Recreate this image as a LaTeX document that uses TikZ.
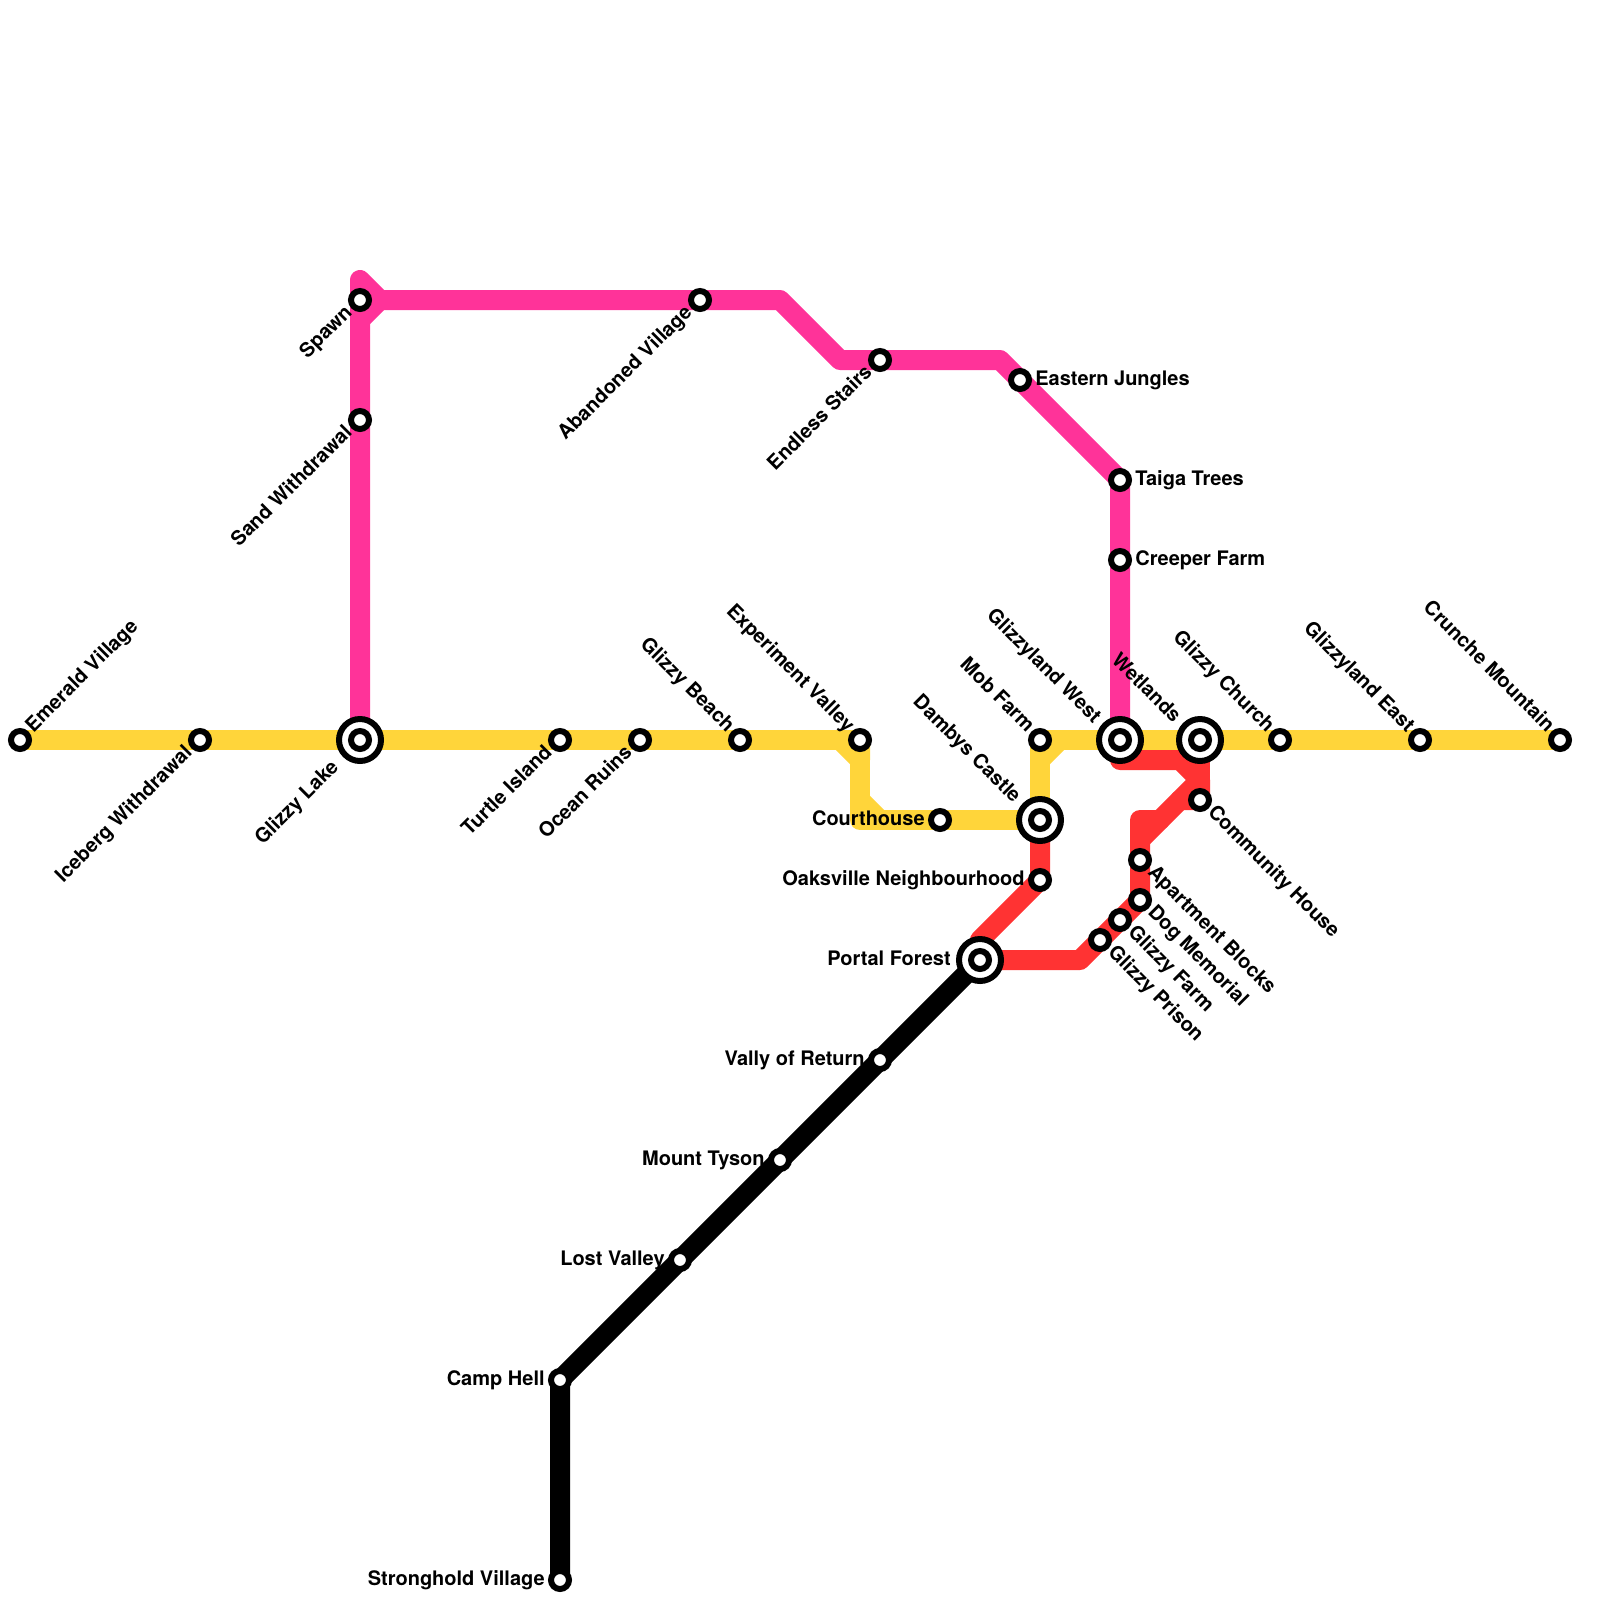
\documentclass[tikz,border=0pt]{standalone}
\usepackage{fontspec}
\setmainfont{TeX Gyre Heros}
\definecolor{lyellow}{HTML}{FFD53A}
\definecolor{lpink}{HTML}{FF3399}
\definecolor{lred}{HTML}{FF3333}
\tikzset{
  metro/.style={line width=0.4cm,line join=round,line cap=round},
  stn/.style={circle,draw=black,fill=white,line width=0.12cm,minimum size=0.36cm,inner sep=0pt},
  hubouter/.style={circle,draw=black,fill=white,line width=0.12cm,minimum size=0.84cm,inner sep=0pt},
  txt/.style={inner sep=0pt,font=\fontsize{11.38}{13}\selectfont\bfseries,text=black},
  lE/.style={txt,anchor=mid west,xshift=0.30cm,yshift=-0.02cm},
  lW/.style={txt,anchor=mid east,xshift=-0.30cm,yshift=-0.02cm},
  lNE/.style={txt,anchor=mid west,xshift=0.20cm,yshift=0.20cm,rotate=45},
  lSW/.style={txt,anchor=mid east,xshift=-0.20cm,yshift=-0.20cm,rotate=45},
  lNW/.style={txt,anchor=mid east,xshift=-0.20cm,yshift=0.20cm,rotate=-45},
  lSE/.style={txt,anchor=mid west,xshift=0.20cm,yshift=-0.20cm,rotate=-45},
  hubSW/.style={lSW,xshift=-0.40cm,yshift=-0.02cm},
  hubNW/.style={lNW,xshift=-0.32cm,yshift=-0.06cm},
  hubW/.style={lW,xshift=-0.28cm}
}
\begin{document}
\begin{tikzpicture}[x=0.02cm,y=-0.02cm]
\useasboundingbox (0,0) rectangle (1600,1600);
% station positions
\foreach \n/\x/\y in {emerald/20/740,iceberg/200/740,lake/360/740,turtle/560/740,ocean/640/740,beach/740/740,experiment/860/740,mob/1040/740,gwest/1120/740,wetlands/1200/740,church/1280/740,geast/1420/740,crunche/1560/740,courthouse/940/820,dambys/1040/820,oaksville/1040/880,portal/980/960,prison/1100/940,farm/1120/920,dog/1140/900,apartment/1140/860,community/1200/800,spawn/360/300,sand/360/420,abandoned/700/300,endless/880/360,eastern/1020/380,taiga/1120/480,creeper/1120/560,vally/880/1060,tyson/780/1160,lost/680/1260,camp/560/1380,stronghold/560/1580}
  {\coordinate (\n) at (\x,\y);}
% black line
\draw[metro,black] (portal) -- (vally) -- (tyson) -- (lost) -- (camp) -- (stronghold);
% red line
\draw[metro,lred] (dambys) -- (oaksville) -- (980,940) -- (portal) -- (1080,960) -- (prison) -- (farm) -- (dog) -- (apartment) -- (1140,820) -- (1160,820);
\draw[metro,lred] (1140,840) -- (1200,780);
\draw[metro,lred] (gwest) -- (1120,760) -- (1180,760) -- (1200,780) -- (community) -- (1180,800);
\draw[metro,lred] (wetlands) -- (1200,780);
% pink line
\draw[metro,lpink] (lake) -- (sand) -- (spawn) -- (360,280) -- (380,300) -- (abandoned) -- (780,300) -- (840,360) -- (endless) -- (1000,360) -- (eastern) -- (taiga) -- (creeper) -- (gwest);
\draw[metro,lpink] (360,320) -- (380,300);
% yellow line
\draw[metro,lyellow] (emerald) -- (iceberg) -- (lake) -- (turtle) -- (ocean) -- (beach) -- (experiment);
\draw[metro,lyellow] (840,740) -- (860,760) -- (experiment);
\draw[metro,lyellow] (860,760) -- (860,820) -- (courthouse) -- (dambys) -- (mob) -- (gwest) -- (wetlands) -- (church) -- (geast) -- (crunche);
\draw[metro,lyellow] (860,800) -- (880,820);
\draw[metro,lyellow] (1040,760) -- (1060,740);
% stations
\foreach \n in {emerald,iceberg,turtle,ocean,beach,experiment,mob,church,geast,crunche,courthouse,oaksville,prison,farm,dog,apartment,community,spawn,sand,abandoned,endless,eastern,taiga,creeper,vally,tyson,lost,camp,stronghold}
  {\node[stn] (st-\n) at (\n) {};}
\foreach \n in {lake,gwest,wetlands,dambys,portal}
  {\node[hubouter] (hub-\n) at (\n) {};\node[stn] (st-\n) at (\n) {};}
% labels
\node[lNE] (t-emerald) at (emerald) {Emerald Village};
\node[lSW] (t-iceberg) at (iceberg) {Iceberg Withdrawal};
\node[hubSW] (t-lake) at (lake) {Glizzy Lake};
\node[lSW] (t-turtle) at (turtle) {Turtle Island};
\node[lSW] (t-ocean) at (ocean) {Ocean Ruins};
\node[lSW] (t-spawn) at (spawn) {Spawn};
\node[lSW] (t-sand) at (sand) {Sand Withdrawal};
\node[lSW] (t-abandoned) at (abandoned) {Abandoned Village};
\node[lSW] (t-endless) at (endless) {Endless Stairs};
\node[lNW] (t-beach) at (beach) {Glizzy Beach};
\node[lNW] (t-experiment) at (experiment) {Experiment Valley};
\node[lNW] (t-mob) at (mob) {Mob Farm};
\node[hubNW] (t-gwest) at (gwest) {Glizzyland West};
\node[hubNW] (t-wetlands) at (wetlands) {Wetlands};
\node[lNW] (t-church) at (church) {Glizzy Church};
\node[lNW] (t-geast) at (geast) {Glizzyland East};
\node[lNW] (t-crunche) at (crunche) {Crunche Mountain};
\node[hubNW] (t-dambys) at (dambys) {Dambys Castle};
\node[lSE] (t-community) at (community) {Community House};
\node[lSE] (t-apartment) at (apartment) {Apartment Blocks};
\node[lSE] (t-dog) at (dog) {Dog Memorial};
\node[lSE] (t-farm) at (farm) {Glizzy Farm};
\node[lSE] (t-prison) at (prison) {Glizzy Prison};
\node[lE] (t-eastern) at (eastern) {Eastern Jungles};
\node[lE] (t-taiga) at (taiga) {Taiga Trees};
\node[lE] (t-creeper) at (creeper) {Creeper Farm};
\node[lW] (t-courthouse) at (courthouse) {Courthouse};
\node[lW] (t-oaksville) at (oaksville) {Oaksville Neighbourhood};
\node[hubW] (t-portal) at (portal) {Portal Forest};
\node[lW] (t-vally) at (vally) {Vally of Return};
\node[lW] (t-tyson) at (tyson) {Mount Tyson};
\node[lW] (t-lost) at (lost) {Lost Valley};
\node[lW] (t-camp) at (camp) {Camp Hell};
\node[lW] (t-stronghold) at (stronghold) {Stronghold Village};
\end{tikzpicture}
\end{document}
